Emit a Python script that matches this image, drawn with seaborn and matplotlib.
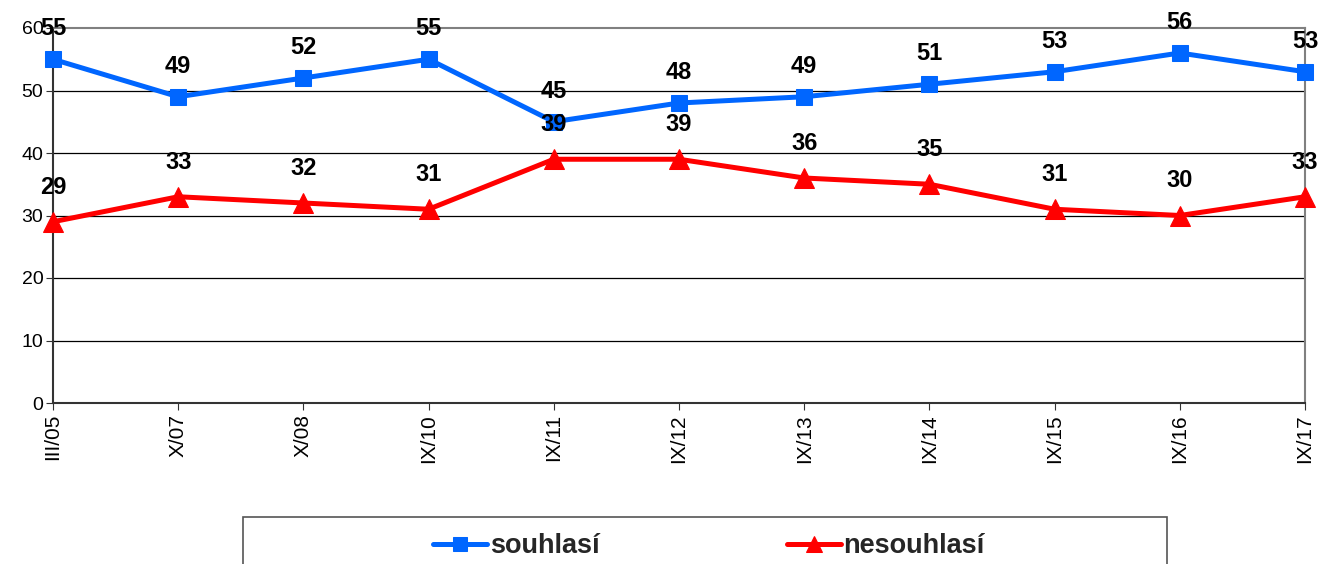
import pandas as pd
import matplotlib.pyplot as plt
import matplotlib.patches as mpatches
import seaborn as sns

# survey waves and values
waves = ['III/05', 'X/07', 'X/08', 'IX/10', 'IX/11', 'IX/12', 'IX/13', 'IX/14', 'IX/15', 'IX/16', 'IX/17']
souhlasi = [55, 49, 52, 55, 45, 48, 49, 51, 53, 56, 53]
nesouhlasi = [29, 33, 32, 31, 39, 39, 36, 35, 31, 30, 33]

sns.set_style('white')
plt.rcParams['font.family'] = ['Liberation Sans', 'DejaVu Sans']

df = pd.DataFrame({'vlna': list(range(len(waves))) * 2,
                   'hodnota': souhlasi + nesouhlasi,
                   'odpoved': ['souhlasí'] * len(waves) + ['nesouhlasí'] * len(waves)})

fig = plt.figure(figsize=(13.21, 5.64), dpi=100)
ax = fig.add_axes([53 / 1321, 1 - 403 / 564, (1305 - 53) / 1321, (403 - 28) / 564])

series = [('souhlasí', '#0066ff', 's', 12), ('nesouhlasí', '#ff0000', '^', 14)]
for name, col, mk, ms in series:
    sub = df[df['odpoved'] == name]
    sns.lineplot(data=sub, x='vlna', y='hodnota', ax=ax, color=col, marker=mk,
                 markersize=ms, markeredgecolor=col, linewidth=3.6, label=name,
                 legend=False, clip_on=False, zorder=3)
    for x, y in zip(sub['vlna'], sub['hodnota']):
        off = 22 if name == 'souhlasí' else 25
        ax.annotate(str(y), (x, y), xytext=(0, off), textcoords='offset points',
                    ha='center', va='center', fontsize=17, fontweight='bold',
                    color='black', zorder=4, annotation_clip=False)

ax.set_xlim(0, len(waves) - 1)
ax.set_ylim(0, 60)
ax.set_yticks(range(0, 61, 10))
ax.set_xticks(range(len(waves)))
ax.set_xticklabels(waves, rotation=90, fontsize=15)
ax.tick_params(axis='y', labelsize=14, length=5, direction='out', left=True, pad=2,
               labelcolor='black', color='#333333')
ax.tick_params(axis='x', length=5, direction='out', bottom=True, pad=3,
               labelcolor='black', color='#333333')
for y in range(10, 60, 10):
    ax.axhline(y, color='black', linewidth=0.9, zorder=1)
ax.set_xlabel('')
ax.set_ylabel('')
for s in ['top', 'right']:
    ax.spines[s].set_color('#808080')
    ax.spines[s].set_linewidth(1.5)
for s in ['left', 'bottom']:
    ax.spines[s].set_color('#333333')
    ax.spines[s].set_linewidth(1.5)

# legend frame runs off the bottom edge like in the source
frame = mpatches.Rectangle((243 / 1321, -0.05), 924 / 1321, 0.05 + 47 / 564,
                           transform=fig.transFigure, facecolor='white',
                           edgecolor='#555555', linewidth=1.2)
fig.patches.append(frame)

handles, labels = ax.get_legend_handles_labels()
leg = fig.legend(handles, labels, loc='center', ncol=2,
                 bbox_to_anchor=(709 / 1321, 1 - 546 / 564),
                 frameon=False, prop={'size': 19.5, 'weight': 'bold'},
                 handlelength=2.0, handletextpad=0.1, columnspacing=6.9,
                 markerscale=0.85, borderaxespad=0)

fig.savefig('out.png', dpi=100)
